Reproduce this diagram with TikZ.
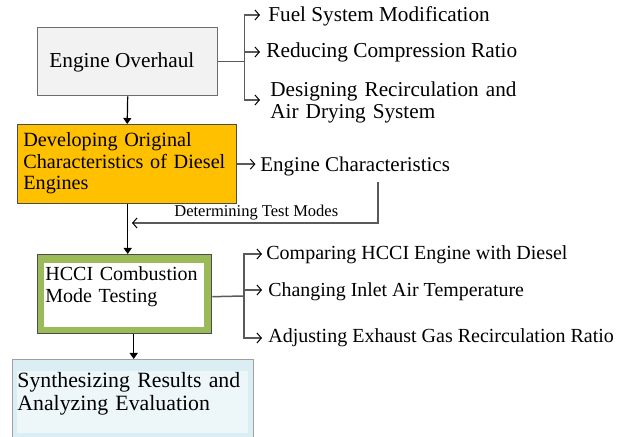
\documentclass[tikz,border=0pt]{standalone}
\usepackage{fontspec}
\setmainfont{Liberation Serif}
\usetikzlibrary{arrows.meta,calc}
\definecolor{eogray}{HTML}{F2F2F2}
\definecolor{devorange}{HTML}{FFC000}
\definecolor{hccigreen}{HTML}{9BBB59}
\definecolor{synband}{HTML}{DAEEF3}
\definecolor{syninner}{HTML}{EDF7FA}
\definecolor{linegray}{HTML}{5A5A5A}
\definecolor{framegray}{HTML}{6E6E6E}
\newcommand{\fsz}[2]{\fontsize{#1}{#2}\selectfont}
\begin{document}
\begin{tikzpicture}[x=0.5pt,y=-0.5pt,
  box/.style={draw=framegray, anchor=north west, inner sep=0pt, line width=0.7pt},
  lbl/.style={inner sep=0pt, anchor=base west, font=\fsz{10.6}{10.75}},
  boxtext/.style={lbl, text width=#1, align=left},
  smalllbl/.style={inner sep=0pt, anchor=base west, font=\fsz{8.25}{9}},
  mainarrow/.style={draw=black, line width=0.6pt, -{Triangle[length=3pt,width=4pt]}},
  wire/.style={draw=linegray, line width=0.75pt},
  branch/.style={wire, -{Straight Barb[length=2.2pt,width=5pt,line width=0.5pt,color=black]}}
]
\useasboundingbox (0,0) rectangle (629,437);

% process boxes
\node[box, fill=eogray, minimum width=90pt, minimum height=34pt] (eo) at (37,27) {};
\node[box, fill=devorange, draw=gray!60!black, minimum width=109.5pt, minimum height=39.5pt] (dev) at (17,124) {};
\node[box, fill=hccigreen, draw=gray!60!black, minimum width=87pt, minimum height=39.5pt] (hcci) at (37,254) {};
\fill[white] ($(hcci.north west)+(7,9)$) rectangle ($(hcci.south east)+(-8,-7)$);
\node[box, fill=synband, draw=gray!75, minimum width=120.5pt, minimum height=41.5pt] (syn) at (12,359) {};
\fill[syninner] ($(syn.north west)+(5,12)$) rectangle ($(syn.south east)+(-6,-10)$);

% box captions
\node[lbl, font=\fsz{10.65}{10.75}] (eotext) at (49,68) {Engine Overhaul};
\node[boxtext=130pt, font=\fsz{10.1}{10.6}] (devtext) at (23,147) {Developing Original\\Characteristics of Diesel\\Engines};
\node[boxtext=110pt, font=\fsz{10.0}{10.6}] (hccitext) at (45,281) {HCCI Combustion\\Mode Testing};
\node[boxtext=140pt, font=\fsz{10.9}{11.3}] (syntext) at (17,388) {Synthesizing Results and\\Analyzing Evaluation};

% main flow
\draw[mainarrow] (eo.south) -- (dev.north);
\draw[mainarrow] (eo.south |- dev.south) -- (eo.south |- hcci.north);
\coordinate (hccout) at ($(hcci.south)+(9,0)$);
\draw[mainarrow] (hccout) -- (hccout |- syn.north);

% overhaul tasks
\coordinate (eobus) at ($(eo.east)+(26,0)$);
\coordinate (f1) at (260,15);
\coordinate (f2) at (260,52);
\coordinate (f3) at (260,100);
\draw[wire] (eo.east) -- (eobus);
\draw[branch] (eobus) |- (f1);
\draw[branch] (eobus) |- (f2);
\draw[branch] (eobus) |- (f3);
\node[lbl] (fuel) at (268,22) {Fuel System Modification};
\node[lbl, font=\fsz{10.65}{10.75}] (ratio) at (266,58) {Reducing Compression Ratio};
\node[boxtext=170pt, font=\fsz{10.6}{11}] (recirc) at (270,97) {Designing Recirculation and\\Air Drying System};

% characteristics output and feedback of test modes
\draw[branch] (dev.east) -- ++(18,0) coordinate (chartip);
\node[lbl, font=\fsz{10.5}{10.75}] (chars) at (260,172) {Engine Characteristics};
\coordinate (dtop) at (378,182);
\coordinate (dcorner) at (378,223);
\coordinate (dtip) at (132,223);
\draw[branch] (dtop) -- (dcorner) -- (dtip);
\node[smalllbl] (modes) at (174,217) {Determining Test Modes};

% HCCI test tasks
\coordinate (hout) at ($(hcci.east)+(0,2.5)$);
\coordinate (hbus) at (244,296);
\coordinate (h1) at (262,254);
\coordinate (h2) at (262,290);
\coordinate (h3) at (262,338);
\draw[wire] (hout) -- (hbus);
\draw[branch] (hbus) |- (h1);
\draw[branch] (hbus) |- (h2);
\draw[branch] (hbus) |- (h3);
\node[lbl, font=\fsz{10.0}{10.75}] (compare) at (266,260) {Comparing HCCI Engine with Diesel};
\node[lbl, font=\fsz{9.95}{10.75}] (temp) at (268,297) {Changing Inlet Air Temperature};
\node[lbl, font=\fsz{10.0}{10.75}] (egr) at (268,343) {Adjusting Exhaust Gas Recirculation Ratio};
\end{tikzpicture}
\end{document}
